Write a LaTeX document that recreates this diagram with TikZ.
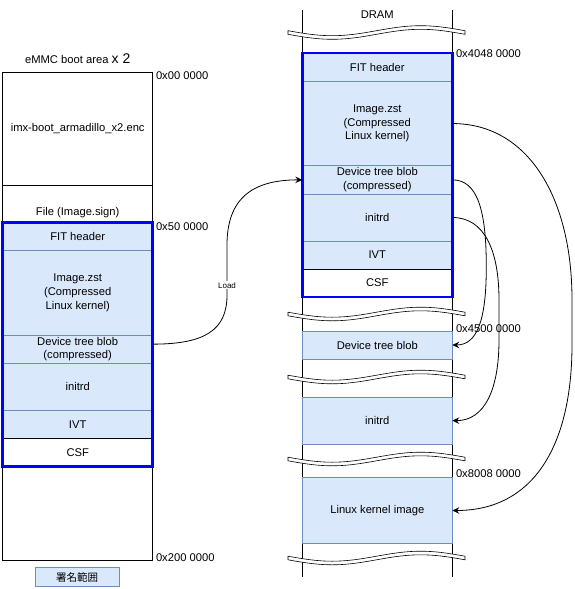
\documentclass[tikz,border=0pt]{standalone}
\usepackage{fontspec}
\setmainfont{Liberation Sans}
\newfontfamily\cjk{Noto Sans CJK JP}
\usetikzlibrary{arrows.meta,calc}
\definecolor{dbfill}{HTML}{DAE8FC}
\definecolor{dbline}{HTML}{6C8EBF}
\definecolor{sigblue}{HTML}{0000FF}
\newcommand\normtext{\fontsize{11.2}{13.6}\selectfont}
\newcommand\wavecut[1]{%
  \draw[brkband] plot[domain=0:177,samples=45,smooth] ({288+\x},{#1-1.8+5*sin(\x*2.0339)})
    -- plot[domain=177:0,samples=45,smooth] ({288+\x},{#1+1.8+5*sin(\x*2.0339)}) -- cycle;}
\begin{document}
\begin{tikzpicture}[x=1pt,y=-1pt,
  every node/.style={inner sep=0pt,outer sep=0pt,font=\normtext,align=center},
  row/.style={draw=dbline,fill=dbfill,minimum width=150pt,line width=0.8pt},
  plain/.style={draw=black,fill=white,minimum width=150pt,line width=0.8pt},
  sigbox/.style={draw=sigblue,line width=2.6pt},
  conn/.style={draw=black,line width=0.8pt,-{Stealth[length=7pt,width=6.5pt,inset=2.5pt]}},
  addr/.style={anchor=west},
  brkband/.style={draw=black,fill=white,line width=0.6pt},
  memline/.style={draw=black,line width=0.8pt},
  lbl/.style={fill=white,inner sep=1pt,font=\fontsize{8}{9}\selectfont},
]
\useasboundingbox (0,0) rectangle (574,589);
\fill[white] (0,0) rectangle (574,589);

% ---------------- left column: eMMC ----------------
\node (emmc) at (77.7,59) {eMMC boot area {\fontsize{14}{16}\selectfont x 2}};
\node[plain,minimum height=487.7pt] (lout) at (77.7,316.15) {};
\node[plain,minimum height=112.7pt] (limx) at (77.7,128.65) {imx-boot\_armadillo\_x2.enc};
\node (lfile) at (77.7,212.5) {File (Image.sign)};

\node[row,minimum height=28.4pt] (lfit) at (77.7,236.5) {FIT header};
\node[row,minimum height=84.3pt] (limg) at (77.7,292.85) {Image.zst\\(Compressed\\Linux kernel)};
\node[row,minimum height=28.3pt] (ldtb) at (77.7,349.15) {Device tree blob\\(compressed)};
\node[row,minimum height=47pt] (linitrd) at (77.7,386.8) {initrd};
\node[row,minimum height=28pt] (livt) at (77.7,424.3) {IVT};
\node[plain,minimum height=28pt] (lcsf) at (77.7,452.3) {CSF};
\draw[sigbox] (lfit.north west) rectangle (lcsf.south east);

\node[addr] (a00) at (156,75.5) {0x00 0000};
\node[addr] (a50) at (156,227) {0x50 0000};
\node[addr] (a200) at (156,557.5) {0x200 0000};

\node[row,minimum width=84pt,minimum height=19.4pt,font=\cjk\fontsize{10.5}{12}\selectfont] (legend) at (77,577) {署名範囲};

% ---------------- right column: DRAM ----------------
\node (dram) at (377.3,15) {DRAM};
\coordinate (vlt) at (302.3,10);
\coordinate (vlb) at (302.3,577);
\coordinate (vrt) at (452.3,10);
\coordinate (vrb) at (452.3,577);
\draw[memline] (vlt) -- (vlb);
\draw[memline] (vrt) -- (vrb);

\wavecut{32.5}
\wavecut{314}
\wavecut{377}
\wavecut{459}
\wavecut{558}

\node[row,minimum height=28.4pt] (rfit) at (377.3,67.2) {FIT header};
\node[row,minimum height=84.3pt] (rimg) at (377.3,123.55) {Image.zst\\(Compressed\\Linux kernel)};
\node[row,minimum height=28.3pt] (rdtbc) at (377.3,179.85) {Device tree blob\\(compressed)};
\node[row,minimum height=47pt] (rinitrd) at (377.3,217.5) {initrd};
\node[row,minimum height=28pt] (rivt) at (377.3,255) {IVT};
\node[plain,minimum height=28pt] (rcsf) at (377.3,283) {CSF};
\draw[sigbox] (rfit.north west) rectangle (rcsf.south east);

\node[row,minimum height=28pt] (rdtb) at (377.3,345) {Device tree blob};
\node[row,minimum height=47.3pt] (dinitrd) at (377.3,420.65) {initrd};
\node[row,minimum height=65.6pt] (dlinux) at (377.3,510.5) {Linux kernel image};

\node[addr] (a4048) at (456,53.3) {0x4048 0000};
\node[addr] (a4500) at (456,329) {0x4500 0000};
\node[addr] (a8008) at (456,474) {0x8008 0000};

% ---------------- connectors ----------------
\draw[conn] ([yshift=5pt]ldtb.east) .. controls +(52,0) and +(0,35) .. ++(74.3,-49)
  -- node[lbl,pos=0.2] (loadlbl) {Load} ++(0,-50)
  .. controls +(0,-45) and +(-52,0) .. (rdtbc.west);

\draw[conn] (rdtbc.east) .. controls +(25,0) and +(0,-57) .. ++(34,87)
  .. controls +(0,53) and +(25,0) .. (rdtb.east);

\draw[conn] (rinitrd.east) .. controls +(32,0) and +(0,-50) .. ++(46.7,82.5)
  -- ++(0,40) .. controls +(0,50) and +(32,0) .. (dinitrd.east);

\draw[conn] (rimg.east) .. controls +(77,0) and +(0,-100) .. ++(119.7,176)
  -- ++(0,45) .. controls +(0,100) and +(82,0) .. (dlinux.east);
\end{tikzpicture}
\end{document}
